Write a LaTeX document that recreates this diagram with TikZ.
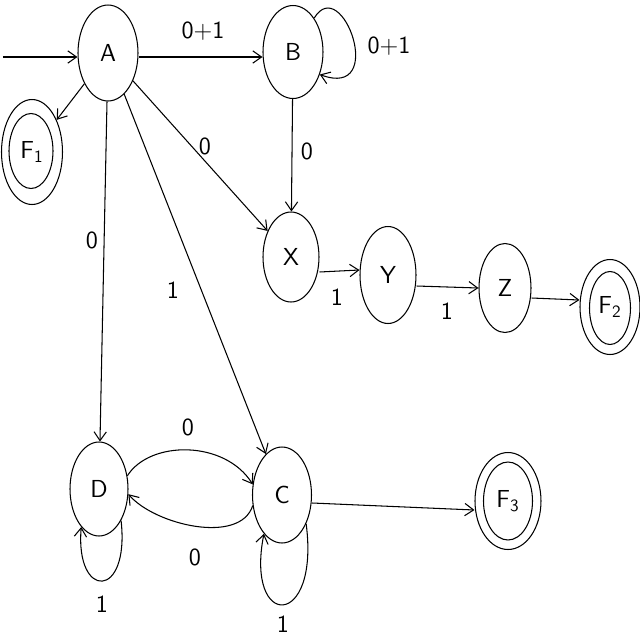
\documentclass[tikz,border=0pt]{standalone}
\usetikzlibrary{shapes.geometric,arrows.meta}
\begin{document}
\begin{tikzpicture}[x=0.02cm,y=-0.02cm,
  every node/.style={font=\sffamily\fontsize{14}{16}\selectfont},
  state/.style={ellipse, draw, inner sep=0pt, line width=0.6pt},
  edge/.style={line width=0.6pt, -{Straight Barb[length=5pt,width=7pt]}},
  lbl/.style={inner sep=0pt}]
\useasboundingbox (0,0) rectangle (640,640);
% states
\node[state, minimum width=1.2cm, minimum height=1.92cm] (A) at (108,53) {A};
\node[state, minimum width=1.2cm, minimum height=1.86cm] (B) at (293,52) {B};
\node[state, minimum width=1.12cm, minimum height=1.8cm] (X) at (291,257) {X};
\node[state, minimum width=1.12cm, minimum height=1.94cm] (Y) at (388,275) {Y};
\node[state, minimum width=1.04cm, minimum height=1.78cm] (Z) at (505,288) {Z};
\node[state, minimum width=1.16cm, minimum height=1.88cm] (D) at (99,489) {D};
\node[state, minimum width=1.18cm, minimum height=1.92cm] (C) at (282,495) {C};
% accepting states
\node[state, minimum width=1.22cm, minimum height=2.1cm] (F1) at (32,152) {F\textsubscript{1}};
\node[state, minimum width=0.88cm, minimum height=1.5cm] (F1i) at (31,151) {};
\node[state, minimum width=1.2cm, minimum height=1.9cm] (F2) at (610,307) {F\textsubscript{2}};
\node[state, minimum width=0.82cm, minimum height=1.46cm] (F2i) at (610,308) {};
\node[state, minimum width=1.32cm, minimum height=1.94cm] (F3) at (508,501) {F\textsubscript{3}};
\node[state, minimum width=0.98cm, minimum height=1.56cm] (F3i) at (508,501) {};
% initial
\coordinate (init) at (3,57);
\draw[edge] (init) -- (A.west |- init);
% edges
\draw[edge] (A.east |- 0,57) -- (B.west |- 0,57);
\node[lbl] (lAB) at (203,31) {0+1};
\draw[edge] (B.58) .. controls (342,-28) and (388,100) .. (B.-40);
\node[lbl] (lBB) at (389,46) {0+1};
\draw[edge] (A) -- (F1);
\draw[edge] (A) -- (X);
\node[lbl] (lAX) at (205,146) {0};
\draw[edge] (B) -- (X);
\node[lbl] (lBX) at (307,151) {0};
\draw[edge] (A) -- (D);
\node[lbl] (lAD) at (92,240) {0};
\draw[edge] (A) -- (C);
\node[lbl] (lAC) at (173,290) {1};
\draw[edge] (X.east |- 0,272) -- (Y.west |- 0,270);
\node[lbl] (lXY) at (337,297) {1};
\draw[edge] (Y.east |- 0,286) -- (Z.west |- 0,288);
\node[lbl] (lYZ) at (447,311) {1};
\draw[edge] (Z.east |- 0,298) -- (F2.west |- 0,300);
\draw[edge] (D.25) .. controls (150,440) and (225,440) .. (C.160);
\node[lbl] (lDC) at (188,427) {0};
\draw[edge] (C.-160) .. controls (240,545) and (155,525) .. (D.-10);
\node[lbl] (lCD) at (195,557) {0};
\draw[edge] (D.-55) .. controls (130,600) and (75,600) .. (D.-115);
\node[lbl] (lDD) at (102,604) {1};
\draw[edge] (C.-50) .. controls (320,630) and (245,630) .. (C.-115);
\node[lbl] (lCC) at (283,624) {1};
\draw[edge] (C.east |- 0,503) -- (F3.west |- 0,510);
\end{tikzpicture}
\end{document}
